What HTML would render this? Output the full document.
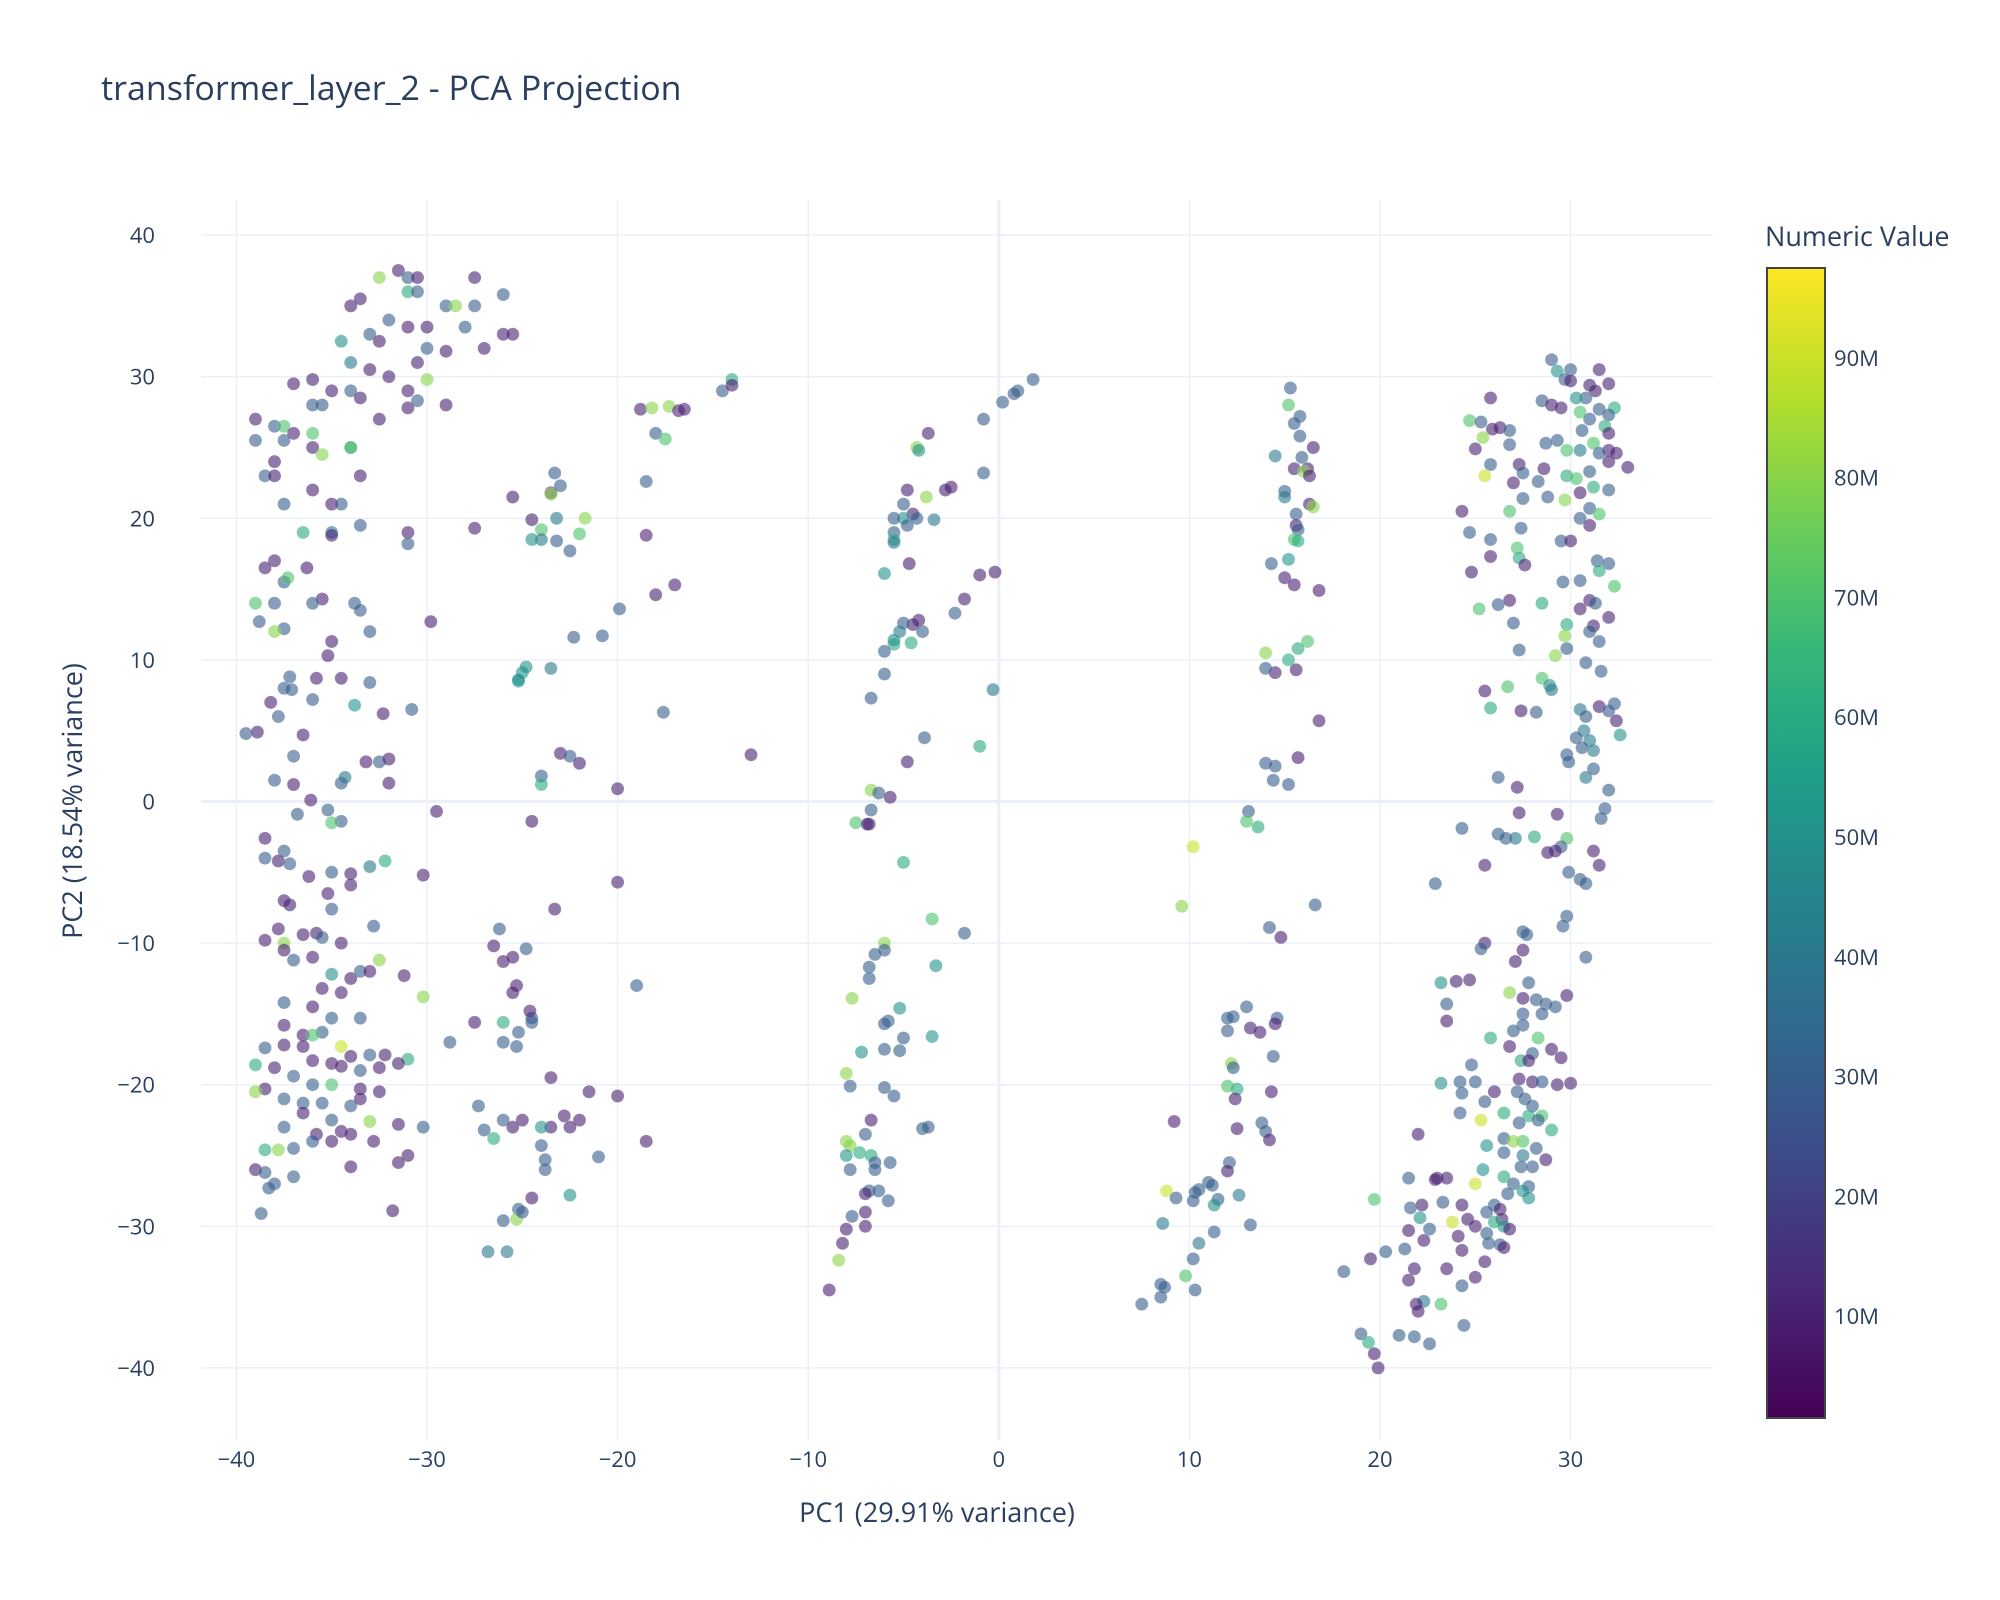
<!DOCTYPE html>
<html><head><meta charset="utf-8"><style>
html,body{margin:0;padding:0;background:#fff;}
svg{display:block;font-family:"Open Sans","Liberation Sans","DejaVu Sans",sans-serif;}
</style></head><body>
<svg id="chart" width="2000" height="1600" viewBox="0 0 2000 1600" xmlns="http://www.w3.org/2000/svg">
<rect width="2000" height="1600" fill="#fff"/>
<text x="101" y="100" font-size="34" fill="#2a3f5f">transformer_layer_2 - PCA Projection</text>
<g id="grid"></g>
<g id="points"></g>
<g id="axes"></g>
<text x="937" y="1522" font-size="27" fill="#2a3f5f" text-anchor="middle">PC1 (29.91% variance)</text>
<text x="82" y="801" font-size="27" fill="#2a3f5f" text-anchor="middle" transform="rotate(-90 82 801)">PC2 (18.54% variance)</text>
<defs><linearGradient id="vir" x1="0" y1="1" x2="0" y2="0">
<stop offset="0" stop-color="#440154"/><stop offset="0.111" stop-color="#482878"/><stop offset="0.222" stop-color="#3e4989"/><stop offset="0.333" stop-color="#31688e"/><stop offset="0.444" stop-color="#26828e"/><stop offset="0.556" stop-color="#1f9e89"/><stop offset="0.667" stop-color="#35b779"/><stop offset="0.778" stop-color="#6ece58"/><stop offset="0.889" stop-color="#b5de2b"/><stop offset="1" stop-color="#fde725"/>
</linearGradient></defs>
<text x="1765" y="246" font-size="27" fill="#2a3f5f">Numeric Value</text>
<rect x="1767" y="268" width="58" height="1150" fill="url(#vir)" stroke="#444" stroke-width="2"/>
<g id="cbticks"></g>
</svg>
<script>
const xTicks=[-40,-30,-20,-10,0,10,20,30];
const yTicks=[-40,-30,-20,-10,0,10,20,30,40];
const cbTicks=[10,20,30,40,50,60,70,80,90];
const cbMin=1.5, cbMax=97.5;
const xs=[],ys=[],vals=[];
const pts=[
[-31.5,37.5,10],[-31,37,30],[-30.5,37,10],[-27.5,37,10],[-32.5,37,80],[-34,35,10],[-33.5,35.5,10],[-31,36,60],[-30.5,36,30],[-29,35,30],[-28.5,35,80],[-27.5,35,30],[-26,35.8,30],[-32,34,30],[-33,33,30],[-34.5,32.5,50],[-30,33.5,10],[-31,33.5,10],[-28,33.5,30],[-26,33,10],[-25.5,33,10],[-32.5,32.5,10],[-30,32,30],[-29,31.8,10],[-27,32,10],[-34,31,40],[-33,30.5,10],[-32,30,10],[-30.5,31,10],[-30,29.8,80],[-36,29.8,10],[-37,29.5,10],[-35,29,10],[-34,29,30],[-31,29,10],[-33.5,28.5,10],[-35.5,28,30],[-36,28,30],[-38,26.5,30],[-39,27,10],[-37.5,26.5,70],[-37,26,10],[-36,26,70],[-37.5,25.5,30],[-39,25.5,30],[-36,25,10],[-35.5,24.5,80],[-34,25,80],[-34,25,60],[-38,24,10],[-38.5,23,30],[-38,23,10],[-33.5,23,10],[-36,22,10],[-35,21,10],[-34.5,21,30],[-37.5,21,30],[-33.5,19.5,30],[-35,19,40],[-36.5,19,60],[-35,18.8,10],[-31,19,10],[-31,18.2,30],[-27.5,19.3,10],[-32.5,27,10],[-31,27.8,10],[-29,28,10],[-30.5,28.3,30],
[-38,17,10],[-38.5,16.5,10],[-37.5,15.5,30],[-37.3,15.8,70],[-36.3,16.5,10],[-35.5,14.3,10],[-39,14,70],[-38,14,30],[-36,14,30],[-33.8,14,30],[-33.5,13.5,30],[-38.8,12.7,30],[-37.5,12.2,30],[-38,12,80],[-33,12,30],[-29.8,12.7,10],[-35,11.3,10],[-35.2,10.3,10],[-34.5,8.7,10],[-37.2,8.8,30],[-35.8,8.7,10],[-33,8.4,30],[-37.5,8,30],[-37.1,7.9,30],[-36,7.2,30],[-38.2,7,10],[-33.8,6.8,50],[-32.3,6.2,10],[-30.8,6.5,30],[-37.8,6,30],[-39.5,4.8,30],[-38.9,4.9,10],[-36.5,4.7,10],[-37,3.2,30],[-33.2,2.8,10],[-32.5,2.8,30],[-32,3,10],[-34.5,1.3,30],[-34.3,1.7,40],[-32,1.3,10],[-38,1.5,30],[-37,1.2,10],[-36.1,0.1,10],[-36.8,-0.9,30],[-35.2,-0.6,30],[-34.5,-1.4,30],[-35,-1.5,70],[-29.5,-0.7,10],
[-38.5,-2.6,10],[-38.5,-4,30],[-37.5,-3.5,30],[-37.8,-4.2,10],[-37.2,-4.4,30],[-36.2,-5.3,10],[-35,-5,30],[-34,-5.1,10],[-33,-4.6,40],[-32.2,-4.2,60],[-30.2,-5.2,10],[-35.2,-6.5,10],[-34,-5.9,10],[-35,-7.6,30],[-37.5,-7,10],[-37.2,-7.3,10],[-38.5,-9.8,10],[-37.8,-9,10],[-37.5,-10,80],[-37.5,-10.5,10],[-36.5,-9.4,10],[-35.8,-9.3,10],[-32.8,-8.8,30],[-35.5,-9.6,30],[-34.5,-10,10],[-37,-11.2,30],[-36,-11,10],[-34,-12.5,10],[-33.5,-12,30],[-33,-12,10],[-31.2,-12.3,10],[-35,-12.2,50],[-32.5,-11.2,80],[-35.5,-13.2,10],[-34.5,-13.5,10],[-30.2,-13.8,80],[-37.5,-14.2,30],[-36,-14.5,10],[-37.5,-15.8,10],[-36.5,-16.5,10],[-35.5,-16.3,30],[-35,-15.3,30],[-33.5,-15.3,30],[-38.5,-17.4,30],[-37.5,-17.2,10],[-36.5,-17.3,10],[-36,-16.5,70],[-34.5,-17.3,90],[-34,-18,10],[-33,-17.9,30],[-32.2,-17.9,10],[-31,-18.2,60],[-39,-18.6,60],[-38,-18.8,10],[-36,-18.3,10],[-35,-18.5,10],[-34.5,-18.7,10],[-33.5,-19,30],[-32.5,-18.8,10],[-31.5,-18.5,10],[-37,-19.4,30],[-36,-20,30],[-35,-20,70],[-33.5,-20.3,10],[-32.5,-20.5,10],[-38.5,-20.3,10],[-39,-20.5,80],[-37.5,-21,30],[-36.5,-21.3,30],[-35.5,-21.3,30],[-34,-21.5,30],[-33.5,-21,10],[-36.5,-22,10],[-35,-22.5,30],[-33,-22.6,80],[-31.5,-22.8,10],[-30.2,-23,30],[-37.5,-23,30],[-35.8,-23.5,10],[-34.5,-23.3,10],[-34,-23.5,10],[-36,-24,30],[-35,-24,10],[-37,-24.5,30],[-38.5,-24.6,60],[-37.8,-24.6,80],[-32.8,-24,10],[-31,-25,10],[-31.5,-25.5,10],[-39,-26,10],[-38.5,-26.2,30],[-37,-26.5,30],[-34,-25.8,10],[-38,-27,30],[-38.3,-27.3,30],[-38.7,-29.1,30],[-31.8,-28.9,10],
[-25.5,21.5,10],[-23.3,23.2,30],[-23.5,21.8,10],[-23.5,21.7,80],[-23,22.3,30],[-24.5,19.9,10],[-23.2,20,40],[-21.7,20,80],[-22,18.9,70],[-24,19.2,70],[-24,18.5,40],[-24.5,18.5,50],[-23.2,18.4,30],[-22.5,17.7,30],[-22.3,11.6,30],[-20.8,11.7,30],[-19.9,13.6,30],[-18.5,18.8,10],[-18.5,22.6,30],[-18.8,27.7,10],[-18.2,27.8,80],[-18,26,30],[-17.5,25.6,70],[-17.3,27.9,80],[-16.8,27.6,10],[-16.5,27.7,10],[-14.5,29,30],[-14,29.8,60],[-14,29.4,10],[-18,14.6,10],[-17,15.3,10],[-17.6,6.3,30],[-13,3.3,10],[-25.2,8.5,50],[-25,9.1,50],[-24.8,9.5,50],[-25.2,8.6,50],[-23.5,9.4,40],[-23,3.4,10],[-22.5,3.2,30],[-22,2.7,10],[-24,1.8,30],[-24,1.2,60],[-20,0.9,10],[-24.5,-1.4,10],[-23.3,-7.6,10],[-20,-5.7,10],
[-26.2,-9,30],[-26.5,-10.2,10],[-26,-11.3,10],[-25.5,-11,10],[-24.8,-10.4,30],[-19,-13,30],[-25.3,-13,10],[-25.5,-13.5,10],[-27.5,-15.6,10],[-26,-15.6,60],[-24.5,-15.6,30],[-24.5,-15.3,30],[-24.6,-14.8,10],[-25.2,-16.3,30],[-26,-17,30],[-25.3,-17.3,30],[-28.8,-17,30],[-23.5,-19.5,10],[-21.5,-20.5,10],[-20,-20.8,10],[-27.3,-21.5,30],[-26,-22.5,30],[-25,-22.5,10],[-22.8,-22.2,10],[-22,-22.5,10],[-23.5,-23,10],[-24,-23,50],[-25.5,-23,10],[-27,-23.2,30],[-26.5,-23.8,60],[-24,-24.3,30],[-22.5,-23,10],[-18.5,-24,10],[-21,-25.1,30],[-23.8,-25.3,30],[-23.8,-26,30],[-22.5,-27.8,50],[-24.5,-28,10],[-25.2,-28.8,30],[-25.3,-29.5,80],[-25,-29,30],[-26,-29.6,30],[-26.8,-31.8,40],[-25.8,-31.8,40],
[1.8,29.8,30],[1,29,30],[0.8,28.8,30],[0.2,28.2,30],[-0.8,27,30],[-3.7,26,10],[-4.3,25,80],[-4.2,24.8,50],[-0.8,23.2,30],[-2.5,22.2,10],[-2.8,22,10],[-3.8,21.5,80],[-4.8,22,10],[-5,21,30],[-4.5,20.3,10],[-4.3,20,30],[-5,20,50],[-5.5,20,30],[-5.5,19,30],[-3.4,19.9,40],[-4.8,19.5,30],[-5.5,18.5,60],[-5.5,18.3,40],[-4.7,16.8,10],[-6,16.1,50],[-1,16,10],[-0.2,16.2,10],[-1.8,14.3,10],[-2.3,13.3,30],[-4.2,12.8,10],[-4.5,12.5,10],[-5,12.6,30],[-5.2,12,40],[-4,12,30],[-4.6,11.2,60],[-5.5,11.1,60],[-5.5,11.4,50],[-6,10.6,30],[-6,9,30],[-6.7,7.3,30],[-0.3,7.9,40],[-1,3.9,60],[-3.9,4.5,30],[-4.8,2.8,10],[-6.7,0.8,80],[-6.3,0.6,30],[-5.7,0.3,10],[-6.7,-0.6,30],[-7.5,-1.5,70],[-6.8,-1.6,10],[-6.9,-1.6,10],[-5,-4.3,60],[-1.8,-9.3,30],[-3.5,-8.3,70],[-6,-10,80],[-6.5,-10.8,30],[-6,-10.5,30],[-6.8,-11.7,30],[-3.3,-11.6,50],[-6.8,-12.5,30],[-7.7,-13.9,80],[-5.2,-14.6,50],[-5.8,-15.5,30],[-6,-15.7,30],[-5,-16.7,30],[-3.5,-16.6,50],[-5.2,-17.6,30],[-6,-17.5,30],[-7.2,-17.7,50],[-8,-19.2,80],[-7.8,-20.1,30],[-6,-20.2,30],[-5.5,-20.8,30],[-4,-23.1,30],[-3.7,-23,30],[-6.7,-22.5,10],[-7,-23.5,30],[-8,-24,80],[-7.8,-24.3,80],[-7.3,-24.8,60],[-6.7,-25,60],[-8,-25,50],[-6.5,-25.5,30],[-7.8,-26,30],[-6.5,-26,30],[-5.7,-25.5,30],[-6.8,-27.5,30],[-6.3,-27.5,30],[-7,-27.7,10],[-5.8,-28.2,30],[-7.7,-29.3,30],[-7,-29,10],[-8,-30.2,10],[-7,-30,10],[-8.2,-31.2,10],[-8.4,-32.4,80],[-8.9,-34.5,10],
[15.3,29.2,30],[15.2,28,70],[15.8,27.2,30],[15.5,26.7,30],[15.8,25.8,30],[16.5,25,10],[14.5,24.4,40],[15.9,24.3,30],[15.5,23.5,10],[16.2,23.5,10],[16,23.3,80],[16.3,23,10],[15,21.9,30],[15,21.5,40],[16.3,21,10],[16.5,20.8,80],[15.6,20.3,30],[15.6,19.5,10],[15.7,19.2,30],[15.5,18.5,70],[15.7,18.4,60],[14.3,16.8,30],[15.2,17.1,50],[15,15.8,10],[15.5,15.3,10],[16.8,14.9,10],[14,10.5,80],[16.2,11.3,70],[15.7,10.8,60],[15.2,10,60],[14.5,9.1,10],[14,9.4,30],[15.6,9.3,10],[16.8,5.7,10],[14,2.7,30],[14.5,2.5,30],[15.7,3.1,10],[14.4,1.5,30],[15.2,1.2,30],[10.2,-3.2,90],[13.1,-0.7,30],[13,-1.4,70],[13.6,-1.8,60],[9.6,-7.4,80],[14.2,-8.9,30],[14.8,-9.6,10],[16.6,-7.3,30],[13,-14.5,30],[12.3,-15.2,30],[12,-15.3,30],[14.6,-15.3,30],[14.5,-15.7,10],[13.2,-16,10],[12,-16.2,30],[13.7,-16.3,10],[14.4,-18,30],[12.2,-18.5,80],[12.3,-18.8,30],[12,-20.1,70],[12.5,-20.3,60],[14.3,-20.5,10],[12.4,-21,10],[9.2,-22.6,10],[13.8,-22.7,30],[14,-23.3,30],[12.5,-23.1,10],[14.2,-23.9,10],[12.1,-25.5,30],[12,-26.1,10],[11,-26.9,30],[10.5,-27.4,30],[11.2,-27.1,30],[10.3,-27.6,30],[12.6,-27.8,40],[8.8,-27.5,90],[9.3,-28,30],[11.5,-28.1,30],[10.2,-28.2,30],[11.3,-28.5,50],[8.6,-29.8,40],[13.2,-29.9,30],[11.3,-30.4,30],[10.5,-31.2,40],[10.2,-32.3,30],[9.8,-33.5,70],[8.5,-34.1,30],[8.7,-34.3,30],[10.3,-34.5,30],[8.5,-35,30],[7.5,-35.5,30],
[29,31.2,30],[30,30.5,30],[31.5,30.5,10],[29.3,30.4,50],[29.7,29.8,30],[30,29.7,10],[31,29.4,10],[32,29.5,10],[31.3,29,10],[30.8,28.5,30],[28.5,28.3,30],[30.3,28.5,50],[25.8,28.5,10],[29,28,10],[29.5,27.8,10],[30.5,27.5,70],[31.5,27.7,30],[32.3,27.8,60],[32,27.3,30],[24.7,26.9,70],[25.3,26.8,30],[26.3,26.4,10],[25.9,26.3,10],[26.8,26.2,30],[31,27,30],[31.8,26.5,60],[32,26,10],[30.6,26.2,30],[29.3,25.5,30],[28.7,25.3,30],[25.4,25.7,80],[25,24.9,10],[26.8,25.2,30],[29.8,24.8,70],[30.5,24.8,40],[31.2,25.3,70],[32,24.8,10],[32.4,24.6,10],[31.5,24.6,30],[25.8,23.8,30],[27.3,23.8,10],[28.6,23.5,10],[29.8,23,60],[31,23.3,30],[32,24,10],[33,23.6,10],[25.5,23,90],[27.5,23.2,30],[27,22.5,10],[28.3,22.6,30],[30.3,22.8,70],[31.2,22.2,60],[32,22,30],[30.5,21.8,10],[28.8,21.5,30],[29.7,21.3,80],[27.5,21.4,30],[26.8,20.5,70],[24.3,20.5,10],[31,20.7,30],[31.5,20.3,70],[30.5,20,30],[31,19.5,10],[27.4,19.3,30],[24.7,19,30],[25.8,18.5,30],[29.5,18.4,30],[30,18.4,10],[27.2,17.9,70],[27.3,17.2,60],[27.6,16.7,10],[25.8,17.3,10],[31.4,17,30],[32,16.8,30],[31.5,16.3,60],[29.6,15.5,30],[30.5,15.6,30],[32.3,15.2,70],[24.8,16.2,10],[31,14.2,10],[31.3,14,30],[30.5,13.6,10],[28.5,14,60],[26.2,13.9,30],[26.8,14.2,10],[25.2,13.6,70],[32,13,10],[31.2,12.4,10],[29.8,12.5,60],[31,12,30],[29.7,11.7,80],[27,12.6,30],[31.5,11.3,30],[29.8,10.8,30],[27.3,10.7,30],[29.2,10.3,80],[30.8,9.8,30],[31.6,9.2,30],[28.5,8.7,70],[28.9,8.2,50],[29,7.9,40],[25.5,7.8,10],[26.7,8.1,70],[30.5,6.5,40],[31.5,6.7,10],[32.3,6.9,30],[32,6.4,30],[28.2,6.3,30],[27.4,6.4,10],[25.8,6.6,60],[30.8,6,30],[30.7,5,40],[32.4,5.7,10],[32.6,4.7,50],[30.3,4.5,30],[31,4.3,40],[30.6,3.8,30],[31.2,3.6,40],[29.8,3.3,30],[29.9,2.8,30],[32,0.8,30],[26.2,1.7,30],[30.8,1.7,40],[27.2,1,10],[31.2,2.3,30],[27.3,-0.8,10],[29.3,-0.9,10],[31.8,-0.5,30],[31.6,-1.2,30],[24.3,-1.9,30],[26.2,-2.3,30],[26.6,-2.6,30],[27.1,-2.6,40],[28.1,-2.5,60],[29.8,-2.6,70],[29.5,-3.2,30],[29.2,-3.5,10],[31.2,-3.5,10],[28.8,-3.6,10],[31.5,-4.5,10],[25.5,-4.5,10],[29.9,-5,30],[30.5,-5.5,30],[30.8,-5.8,30],[22.9,-5.8,30],[29.8,-8.1,30],[29.6,-8.8,30],[27.5,-9.2,30],[27.7,-9.4,30],[25.5,-10,10],[25.3,-10.4,30],[27.5,-10.5,10],[30.8,-11,30],[27.1,-11.3,10],[24.7,-12.6,10],[23.2,-12.8,50],[27.8,-12.8,30],[24,-12.7,10],[26.8,-13.5,80],[27.5,-13.9,10],[28.2,-14,30],[29.8,-13.7,10],[28.7,-14.3,30],[29.2,-14.5,30],[23.5,-14.3,30],[27.5,-15,30],[28.5,-15,30],[23.5,-15.5,10],[27.5,-15.8,30],[27,-16.2,30],[25.8,-16.7,60],[28.3,-16.7,70],[26.8,-17.3,10],[29,-17.5,10],[28,-17.8,30],[27.4,-18.3,60],[24.8,-18.6,30],[27.8,-18.3,10],[29.5,-18.1,10],[25,-19.8,30],[27.3,-19.6,10],[28,-19.8,10],[28.5,-19.8,30],[29.3,-20,10],[30,-19.9,10],[24.2,-19.8,30],[23.2,-19.9,50],[26,-20.5,10],[24.3,-20.6,30],[27.2,-20.5,30],[27.6,-21,30],[25.5,-21.2,30],[28,-21.5,30],[25.3,-22.5,90],[24.2,-22,30],[26.5,-22,60],[27.8,-22.2,60],[28.5,-22.2,70],[27.3,-22.7,30],[28.3,-22.5,30],[29,-23.2,60],[22,-23.5,10],[26.5,-23.8,30],[27.5,-24,70],[25.6,-24.3,50],[27,-24,80],[28.2,-24.5,30],[26.5,-24.8,30],[27.5,-25,40],[28.7,-25.3,10],[27.4,-25.8,30],[25.4,-26,50],[28,-25.8,30],[26.5,-26.5,60],[21.5,-26.6,30],[23,-26.6,10],[22.9,-26.7,10],[23.5,-26.6,10],[25,-27,90],[27,-27,30],[27.8,-27.2,30],[27.5,-27.5,50],[26.7,-27.7,30],[27.8,-28,50],[19.7,-28.1,70],[22.2,-28.5,10],[24.3,-28.5,10],[26,-28.5,30],[26.3,-28.8,10],[21.6,-28.7,30],[23.3,-28.3,30],[25.6,-29,30],[26.4,-29.5,10],[22.1,-29.4,50],[24.6,-29.5,10],[23.8,-29.7,90],[26,-29.7,60],[25,-30,10],[26.5,-30,50],[22.6,-30.2,30],[21.5,-30.3,10],[25.6,-30.5,30],[26.8,-30.2,10],[24.1,-30.7,10],[22.3,-31,10],[25.7,-31.2,30],[26.3,-31.3,30],[26.5,-31.5,10],[21.3,-31.6,30],[20.3,-31.8,30],[24.3,-31.7,10],[19.5,-32.3,10],[25.5,-32.5,10],[18.1,-33.2,30],[23.5,-33,10],[21.8,-33,10],[25,-33.6,10],[21.5,-33.8,10],[24.3,-34.2,30],[22.3,-35.3,40],[21.9,-35.5,10],[23.2,-35.5,70],[22,-36,10],[24.4,-37,30],[19,-37.6,30],[21,-37.7,30],[21.8,-37.8,30],[19.4,-38.2,60],[22.6,-38.3,30],[19.7,-39,10],[19.9,-40,10]
];
pts.forEach(p=>{xs.push(p[0]);ys.push(p[1]);vals.push(p[2]);});

const NS='http://www.w3.org/2000/svg';
const X=v=>998.8+v*19.06;
const Y=v=>801.5-v*14.16;
const plotL=201,plotR=1713,plotT=200,plotB=1440;
const stops=[[68,1,84],[72,40,120],[62,73,137],[49,104,142],[38,130,142],[31,158,137],[53,183,121],[110,206,88],[181,222,43],[253,231,37]];
function vir(v){let t=(v-cbMin)/(cbMax-cbMin);t=Math.max(0,Math.min(1,t));const f=t*9,i=Math.min(8,Math.floor(f)),r=f-i;
const a=stops[i],b=stops[i+1];return 'rgb('+a.map((c,k)=>Math.round(c+(b[k]-c)*r)).join(',')+')';}
function mk(tag,attrs,parent){const e=document.createElementNS(NS,tag);for(const k in attrs)e.setAttribute(k,attrs[k]);parent.appendChild(e);return e;}
const grid=document.getElementById('grid'),axes=document.getElementById('axes');
xTicks.forEach(t=>{
 const l=mk('line',{x1:X(t),x2:X(t),y1:plotT,y2:plotB,stroke:'#EBF0F8','stroke-width':t===0?3:1.5},grid);
 
 
 const tx=mk('text',{x:X(t),y:1467,'font-size':22,fill:'#2a3f5f','text-anchor':'middle'},axes);
 tx.textContent=t<0?'\u2212'+(-t):String(t);
 
 
});
yTicks.forEach(t=>{
 const l=mk('line',{x1:plotL,x2:plotR,y1:Y(t),y2:Y(t),stroke:'#EBF0F8','stroke-width':t===0?3:1.5},grid);
 
 
 const tx=mk('text',{x:155,y:Y(t)+8,'font-size':22,fill:'#2a3f5f','text-anchor':'end'},axes);
 tx.textContent=t<0?'\u2212'+(-t):String(t);
 
 
});
const pg=document.getElementById('points');
for(let i=0;i<xs.length;i++){
 const c=mk('circle',{cx:X(xs[i]),cy:Y(ys[i]),r:6.5,fill:vir(vals[i]),'fill-opacity':0.6,stroke:'rgba(255,255,255,0.3)','stroke-width':0.5},pg);
 
 
}
const cb=document.getElementById('cbticks');
const CB=v=>1418-(v-cbMin)/(cbMax-cbMin)*1150;
cbTicks.forEach(t=>{
 const tx=mk('text',{x:1834,y:CB(t)+8,'font-size':22,fill:'#2a3f5f'},cb);
 tx.textContent=t+'M';
 
 
});
</script>
</body></html>
